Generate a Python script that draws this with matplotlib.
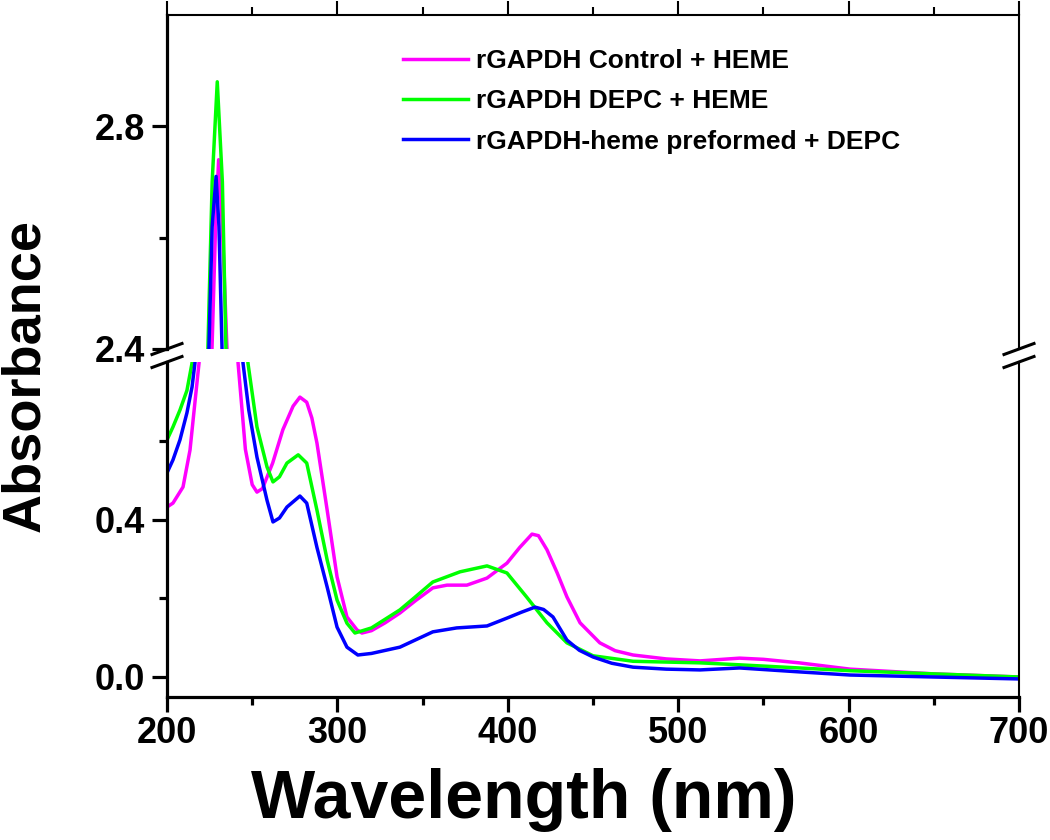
import matplotlib
matplotlib.use("Agg")
import matplotlib.pyplot as plt
from matplotlib.ticker import MultipleLocator, FixedLocator
from matplotlib.lines import Line2D

plt.rcParams['font.family'] = ['Liberation Sans', 'DejaVu Sans']
plt.rcParams['font.weight'] = 'bold'

# spectra (wavelength nm, absorbance)
ctrl_wl = [200, 203.5, 209.4, 213.5, 216.4, 218.8, 222, 226.4, 228.5, 230.3, 232.5, 235.2, 238, 241.7,
           246, 250, 252.8, 256, 262, 268, 274, 278, 282, 285, 288, 294, 299.8, 305.6, 311.5, 314.4, 320,
           328, 336.7, 346, 356, 364.3, 376, 387.8, 399.5, 407, 414.2, 418, 423, 429, 434.7, 442.4, 454,
           463, 473.5, 493, 512.8, 536, 550, 571, 600.8, 649.5, 700]
ctrl_abs = [0.433, 0.443, 0.484, 0.578, 0.70, 0.80, 1.6, 2.40, 2.62, 2.74, 2.62, 2.40, 1.6, 0.80,
            0.58, 0.49, 0.471, 0.48, 0.545, 0.63, 0.69, 0.713, 0.70, 0.66, 0.596, 0.425, 0.255, 0.153, 0.12, 0.112, 0.118,
            0.138, 0.163, 0.195, 0.227, 0.234, 0.234, 0.252, 0.29, 0.33, 0.364, 0.36, 0.324, 0.265, 0.204, 0.138, 0.087,
            0.067, 0.056, 0.046, 0.041, 0.048, 0.045, 0.036, 0.02, 0.008, 0.0]

depc_wl = [200, 203.5, 207.6, 211.7, 214.7, 219, 224, 226.5, 229.5, 232.5, 234.6, 240, 247.5, 252.8,
           258.7, 262.2, 266, 270.4, 277, 282, 288, 294, 299.8, 305.6, 310.3, 320, 336.7, 346, 356, 372,
           387.8, 399.5, 411, 423, 434.7, 450, 473.5, 512.8, 536, 571, 600.8, 649.5, 700]
depc_abs = [0.604, 0.637, 0.68, 0.73, 0.80, 1.6, 2.40, 2.70, 2.88, 2.70, 2.40, 1.6, 0.80, 0.637,
            0.535, 0.497, 0.51, 0.545, 0.566, 0.545, 0.425, 0.298, 0.196, 0.137, 0.112, 0.125, 0.171, 0.205, 0.242, 0.268,
            0.283, 0.265, 0.204, 0.138, 0.087, 0.054, 0.04, 0.036, 0.031, 0.023, 0.016, 0.008, 0.0]

pre_wl = [200, 203.5, 207.6, 211.7, 214.7, 216.4, 220, 224.6, 226.5, 228.8, 230.5, 232.3, 236, 244.6,
          248, 252.8, 258.7, 262.2, 266, 270.4, 278, 282, 288, 294, 299.8, 305.6, 312, 320, 336.7, 356,
          370, 387.8, 399.5, 408, 416, 421, 426.5, 434.7, 442, 450, 461, 473.5, 493, 512.8, 536, 571,
          600.8, 649.5, 700]
pre_abs = [0.52, 0.553, 0.604, 0.673, 0.739, 0.80, 1.6, 2.40, 2.62, 2.71, 2.62, 2.40, 1.6, 0.80,
           0.68, 0.56, 0.45, 0.395, 0.405, 0.433, 0.461, 0.443, 0.33, 0.229, 0.127, 0.076, 0.056, 0.06, 0.076, 0.115,
           0.125, 0.13, 0.15, 0.165, 0.178, 0.172, 0.153, 0.094, 0.068, 0.051, 0.035, 0.025, 0.02, 0.018, 0.023, 0.013,
           0.005, 0.0, -0.005]

series = [
    (ctrl_wl, ctrl_abs, '#FF00FF', 'rGAPDH Control + HEME'),
    (depc_wl, depc_abs, '#00FF00', 'rGAPDH DEPC + HEME'),
    (pre_wl, pre_abs, '#0000FF', 'rGAPDH-heme preformed + DEPC'),
]

W, H = 1050, 840
fig = plt.figure(figsize=(10.5, 8.4), dpi=100)
L = 167 / W
AW = (1019 - 167) / W
ax_lo = fig.add_axes([L, 1 - 697 / H, AW, (697 - 362) / H])
ax_hi = fig.add_axes([L, 1 - 349 / H, AW, (349 - 15) / H], sharex=ax_lo)

for ax in (ax_lo, ax_hi):
    for wl, a, c, lab in series:
        ax.plot(wl, a, color=c, lw=2.5, label=lab)

ax_lo.set_xlim(200, 700)
ax_lo.set_ylim(-0.051, 0.8025)
ax_hi.set_ylim(2.4, 3.0)

ax_lo.xaxis.set_major_locator(MultipleLocator(100))
ax_lo.xaxis.set_minor_locator(MultipleLocator(50))
ax_lo.yaxis.set_major_locator(FixedLocator([0.0, 0.4]))
ax_lo.yaxis.set_minor_locator(FixedLocator([0.2, 0.6]))
ax_hi.yaxis.set_major_locator(FixedLocator([2.4, 2.8]))
ax_hi.yaxis.set_minor_locator(FixedLocator([2.6]))
ax_lo.yaxis.set_major_formatter(plt.FormatStrFormatter('%.1f'))
ax_hi.yaxis.set_major_formatter(plt.FormatStrFormatter('%.1f'))

thick, thin = 2.3, 1.5
ax_lo.spines['top'].set_visible(False)
ax_hi.spines['bottom'].set_visible(False)
for ax in (ax_lo, ax_hi):
    ax.spines['left'].set_linewidth(thick)
    ax.spines['right'].set_linewidth(thin)
ax_lo.spines['bottom'].set_linewidth(thick)
ax_hi.spines['top'].set_linewidth(thin)

ax_lo.tick_params(axis='x', which='both', bottom=True, top=False, labelbottom=True, direction='out')
ax_lo.tick_params(axis='x', which='major', length=11, width=thick, pad=3, labelsize=26)
ax_lo.tick_params(axis='x', which='minor', length=6, width=thick)
ax_hi.tick_params(axis='x', which='both', bottom=False, top=True, labelbottom=False, labeltop=False)
ax_hi.tick_params(axis='x', which='major', length=10, width=thin)
ax_hi.tick_params(axis='x', which='minor', length=5.5, width=thin)
for ax in (ax_lo, ax_hi):
    ax.tick_params(axis='y', which='both', left=True, right=False, direction='out')
    ax.tick_params(axis='y', which='major', length=11, width=thick, pad=5, labelsize=26)
    ax.tick_params(axis='y', which='minor', length=6, width=thick)

# axis-break marks
for xc in (167, 1019):
    for yc in (349, 362):
        fig.lines.append(Line2D([(xc - 15) / W, (xc + 15) / W],
                                [1 - (yc + 5.5) / H, 1 - (yc - 5.5) / H],
                                transform=fig.transFigure, color='black', lw=2.2))

fig.text(25 / W, 1 - 376 / H, 'Absorbance', rotation=90, ha='center', va='center',
         fontsize=39, fontweight='bold')
fig.text(524 / W, 1 - 800 / H, 'Wavelength (nm)', ha='center', va='center',
         fontsize=49, fontweight='bold')

ax_hi.legend(loc='upper left', bbox_to_anchor=(403 / W, 1 - 49 / H), bbox_transform=fig.transFigure,
             frameon=False, handlelength=2.45, handletextpad=0.3,
             labelspacing=0.62, borderpad=0, borderaxespad=0,
             prop={'weight': 'bold', 'size': 19})

fig.savefig('out.png', dpi=100)
